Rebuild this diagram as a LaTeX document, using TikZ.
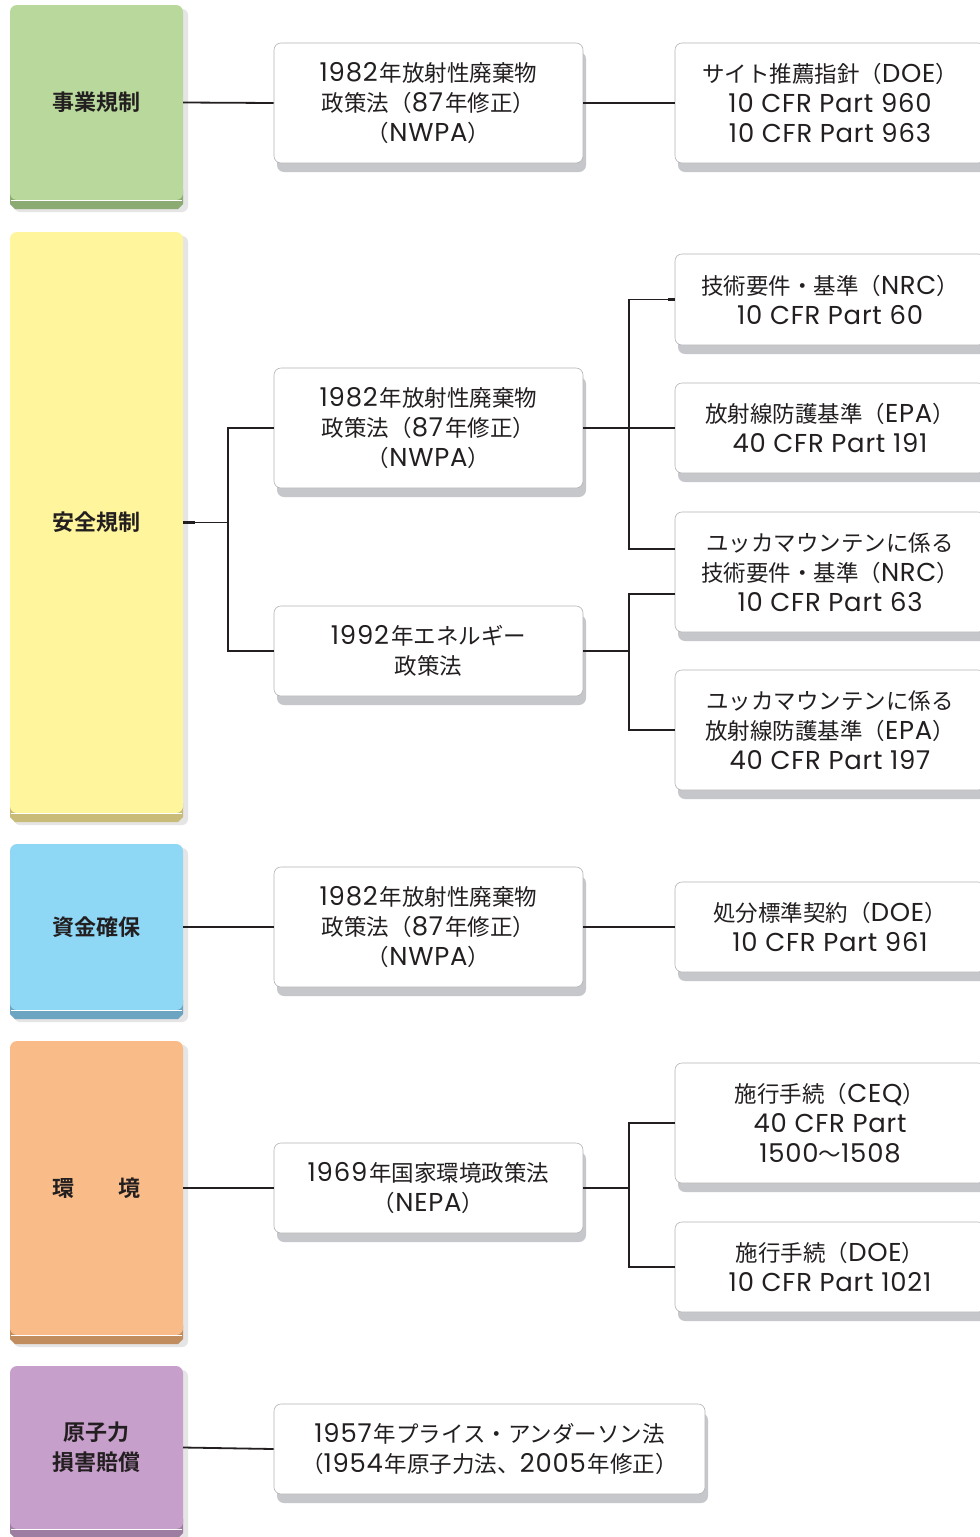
\documentclass[tikz,border=0pt]{standalone}
\usepackage{fontspec}
\setmainfont{Noto Sans CJK JP}[BoldFont={Noto Sans CJK JP Bold}]
\newfontfamily\latf{Poppins}[Scale=1.15, LetterSpace=3]
\newcommand\lat[1]{{\latf #1}}
\newcommand\yr[1]{{\latf #1}\kern2pt}
\usetikzlibrary{shadows}
\definecolor{ink}{HTML}{231F20}
\definecolor{boxline}{HTML}{B4B4B6}
\definecolor{shadowgray}{HTML}{C6C7CB}
\definecolor{greenface}{HTML}{B8D99B}
\definecolor{greenband}{HTML}{8CAB72}
\definecolor{yellowface}{HTML}{FFF59D}
\definecolor{yellowband}{HTML}{C8BC78}
\definecolor{blueface}{HTML}{8ED8F6}
\definecolor{blueband}{HTML}{6BA5C1}
\definecolor{orangeface}{HTML}{F9BC88}
\definecolor{orangeband}{HTML}{C18C5E}
\definecolor{purpleface}{HTML}{C69FCB}
\definecolor{purpleband}{HTML}{9E7DA2}
\begin{document}
\begin{tikzpicture}[x=1pt,y=-1pt,
  lawbox/.style={draw=boxline, line width=0.6pt, fill=white, rounded corners=7pt,
    align=center, inner sep=0pt, text=ink,
    font=\fontsize{22.5pt}{30pt}\selectfont,
    general shadow={fill=shadowgray, shadow xshift=3pt, shadow yshift=-9pt}},
  midbox/.style={lawbox, minimum width=309pt},
  rightbox/.style={lawbox, minimum width=310pt},
  catbox/.style={rounded corners=7pt, minimum width=173pt, inner sep=0pt,
    align=center, text=ink, font=\fontsize{22pt}{30pt}\selectfont\bfseries},
  catshade/.style={fill=black!10, rounded corners=6pt},
  straight/.style={draw=ink, line width=1.8pt},
  branch/.style={draw=ink, line width=1.1pt},
  stub/.style={draw=ink, line width=2.6pt}
]
\useasboundingbox (0,0) rectangle (980,1537);
\fill[white] (0,0) rectangle (980,1537);

% ---------- category boxes ----------
% L1
\fill[catshade] (14,9) rectangle (188,212);
\fill[greenband] (10,190) -- (183,190) -- (183,204) -- (178,209) -- (15,209) -- (10,204) -- cycle;
\node[catbox, fill=greenface, minimum height=195pt] (L1) at (96.5,102.5) {事業規制};
\draw[white, line width=0.8pt] (11,200) -- (182,200);
% L2
\fill[catshade] (14,236) rectangle (188,825);
\fill[yellowband] (10,803) -- (183,803) -- (183,817) -- (178,822) -- (15,822) -- (10,817) -- cycle;
\node[catbox, fill=yellowface, minimum height=581pt] (L2) at (96.5,522.5) {安全規制};
\draw[white, line width=0.8pt] (11,813) -- (182,813);
% L3
\fill[catshade] (14,848) rectangle (188,1022);
\fill[blueband] (10,1000) -- (183,1000) -- (183,1014) -- (178,1019) -- (15,1019) -- (10,1014) -- cycle;
\node[catbox, fill=blueface, minimum height=166pt] (L3) at (96.5,927) {資金確保};
\draw[white, line width=0.8pt] (11,1010) -- (182,1010);
% L4
\fill[catshade] (14,1045) rectangle (188,1347);
\fill[orangeband] (10,1325) -- (183,1325) -- (183,1339) -- (178,1344) -- (15,1344) -- (10,1339) -- cycle;
\node[catbox, fill=orangeface, minimum height=294pt] (L4) at (96.5,1188) {環　　境};
\draw[white, line width=0.8pt] (11,1335) -- (182,1335);
% L5
\fill[catshade] (14,1370) rectangle (188,1545);
\fill[purpleband] (10,1519) -- (183,1519) -- (183,1533) -- (178,1538) -- (15,1538) -- (10,1533) -- cycle;
\node[catbox, fill=purpleface, minimum height=163pt] (L5) at (96.5,1447.5) {原子力\\損害賠償};
\draw[white, line width=0.8pt] (11,1529) -- (182,1529);

% ---------- middle boxes ----------
\node[midbox, minimum height=120pt] (M1) at (428.5,103) {\yr{1982}年放射性廃棄物\\政策法（\yr{87}年修正）\\（\lat{NWPA}）};
\node[midbox, minimum height=120pt] (M2) at (428.5,428) {\yr{1982}年放射性廃棄物\\政策法（\yr{87}年修正）\\（\lat{NWPA}）};
\node[midbox, minimum height=90pt] (M3) at (428.5,651) {\yr{1992}年エネルギー\\政策法};
\node[midbox, minimum height=120pt] (M4) at (428.5,927) {\yr{1982}年放射性廃棄物\\政策法（\yr{87}年修正）\\（\lat{NWPA}）};
\node[midbox, minimum height=90pt] (M5) at (428.5,1188) {\yr{1969}年国家環境政策法\\（\lat{NEPA}）};
\node[lawbox, minimum width=431pt, minimum height=90pt] (M6) at (489.5,1449) {\yr{1957}年プライス・アンダーソン法\\（\yr{1954}年原子力法、\yr{2005}年修正）};

% ---------- right boxes ----------
\node[rightbox, minimum height=120pt] (R1) at (830,103) {サイト推薦指針（\lat{DOE}）\\\lat{10 CFR Part 960}\\\lat{10 CFR Part 963}};
\node[rightbox, minimum height=91pt] (R2) at (830,299.5) {技術要件・基準（\lat{NRC}）\\\lat{10 CFR Part 60}};
\node[rightbox, minimum height=90pt] (R3) at (830,428) {放射線防護基準（\lat{EPA}）\\\lat{40 CFR Part 191}};
\node[rightbox, minimum height=120pt] (R4) at (830,572) {ユッカマウンテンに係る\\技術要件・基準（\lat{NRC}）\\\lat{10 CFR Part 63}};
\node[rightbox, minimum height=120pt] (R5) at (830,730) {ユッカマウンテンに係る\\放射線防護基準（\lat{EPA}）\\\lat{40 CFR Part 197}};
\node[rightbox, minimum height=90pt] (R6) at (830,927) {処分標準契約（\lat{DOE}）\\\lat{10 CFR Part 961}};
\node[rightbox, minimum height=120pt] (R7) at (830,1123) {施行手続（\lat{CEQ}）\\\lat{40 CFR Part}\\\lat{1500}～\lat{1508}};
\node[rightbox, minimum height=90pt] (R8) at (830,1267) {施行手続（\lat{DOE}）\\\lat{10 CFR Part 1021}};

% ---------- connectors ----------
\coordinate (j1) at (228,522.5);
\coordinate (j2) at (629,428);
\coordinate (j3) at (629,651);
\coordinate (j5) at (629,1188);
\coordinate (r4a) at (675,549);
\coordinate (r4b) at (675,594);

\draw[straight] (L1.east) -- (M1.west);
\draw[straight] (M1.east) -- (R1.west);
\draw[straight] (L3.east) -- (M4.west);
\draw[straight] (M4.east) -- (R6.west);
\draw[straight] (L4.east) -- (M5.west);
\draw[straight] (L5.east) -- (M6.west);

\draw[branch] (L2.east) -- (j1);
\draw[branch] (M2.west) -| (j1);
\draw[branch] (M3.west) -| (j1);
\draw[branch] (M2.east) -- (R3.west);
\draw[branch] (R2.west) -| (j2);
\draw[branch] (r4a) -| (j2);
\draw[branch] (M3.east) -- (j3);
\draw[branch] (r4b) -| (j3);
\draw[branch] (R5.west) -| (j3);
\draw[branch] (M5.east) -- (j5);
\draw[branch] (R7.west) -| (j5);
\draw[branch] (R8.west) -| (j5);

% stubs at box ends of branching connectors
\draw[stub] (L2.east) -- ++(12,0);
\draw[stub] (M2.west) -- ++(-7,0);
\draw[stub] (M3.west) -- ++(-7,0);
\draw[stub] (M2.east) -- ++(12,0);
\draw[stub] (M3.east) -- ++(12,0);
\draw[stub] (M5.east) -- ++(12,0);
\draw[stub] (R2.west) -- ++(-7,0);
\draw[stub] (R3.west) -- ++(-7,0);
\draw[stub] (r4a) -- ++(-7,0);
\draw[stub] (r4b) -- ++(-7,0);
\draw[stub] (R5.west) -- ++(-7,0);
\draw[stub] (R7.west) -- ++(-7,0);
\draw[stub] (R8.west) -- ++(-7,0);
\end{tikzpicture}
\end{document}
